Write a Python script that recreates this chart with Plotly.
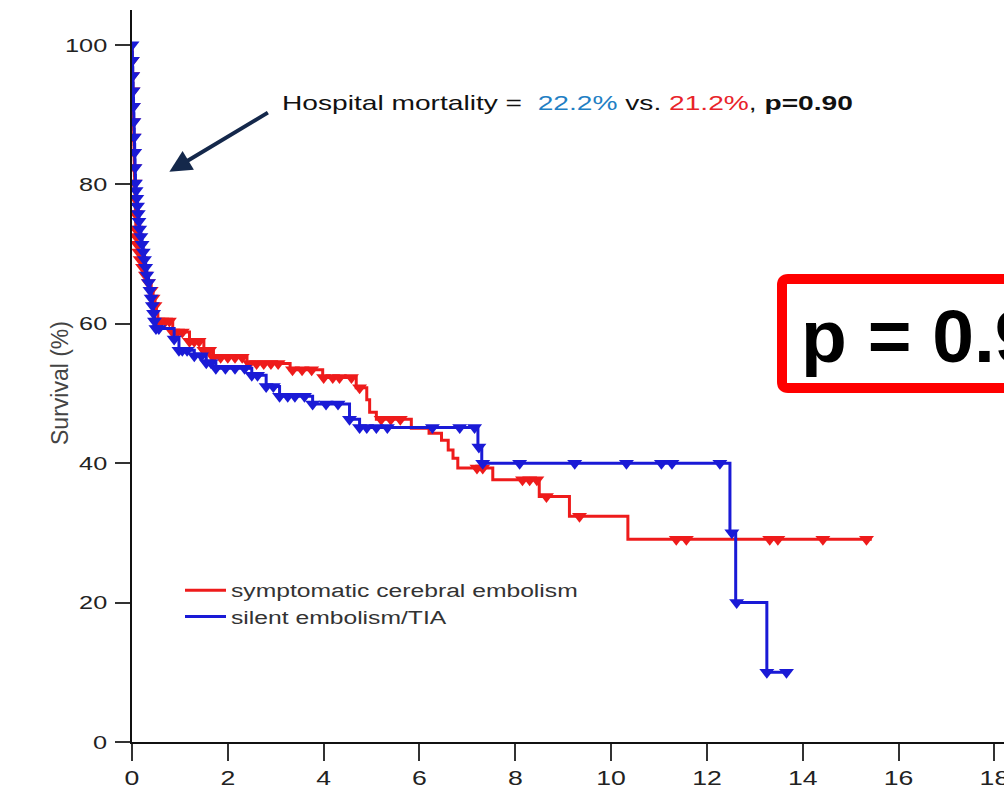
import plotly.graph_objects as go

# ---- Kaplan-Meier data (years, survival %) ----
# symptomatic cerebral embolism
red_event_t = [0.003, 0.006, 0.009, 0.012, 0.015, 0.018, 0.021, 0.024, 0.027, 0.030,
               0.033, 0.036, 0.039, 0.042, 0.045, 0.048, 0.051, 0.054, 0.058, 0.062,
               0.066, 0.070, 0.075, 0.080, 0.090, 0.110, 0.140, 0.170, 0.220, 0.280,
               0.340, 0.400, 0.440, 0.480, 0.510, 0.540, 0.85, 1.20, 1.50, 1.70,
               2.40, 3.30, 3.98, 4.68, 4.90, 4.96, 5.10, 5.83, 6.20, 6.46,
               6.60, 6.70, 6.80, 7.53, 8.50, 9.13, 10.35]
red_event_s = [98.9, 97.8, 96.7, 95.6, 94.5, 93.4, 92.3, 91.2, 90.1, 89.0,
               87.9, 86.8, 85.7, 84.6, 83.5, 82.4, 81.3, 80.2, 79.1, 78.0,
               76.9, 75.8, 74.7, 73.6, 72.5, 71.4, 70.3, 69.2, 68.1, 67.0,
               65.9, 64.8, 63.7, 62.6, 61.5, 60.4, 58.8, 57.5, 56.2, 55.2,
               54.3, 53.4, 52.3, 50.8, 49.1, 47.3, 46.3, 45.0, 44.3, 43.3,
               41.9, 40.7, 39.3, 37.6, 35.2, 32.4, 29.1]
red_censor_t = [0.006, 0.012, 0.018, 0.024, 0.030, 0.036, 0.042, 0.048, 0.054, 0.062,
                0.070, 0.080, 0.090, 0.110, 0.140, 0.170, 0.220, 0.280, 0.340, 0.400,
                0.440, 0.480, 0.540, 0.62, 0.70, 0.78, 0.85, 0.95, 1.05, 1.20,
                1.30, 1.40, 1.50, 1.62, 1.70, 1.85, 2.00, 2.15, 2.30, 2.45,
                2.60, 2.75, 2.90, 3.05, 3.35, 3.55, 3.75, 4.00, 4.19, 4.33,
                4.58, 4.75, 5.20, 5.40, 5.60, 7.20, 7.32, 8.15, 8.30, 8.45,
                8.65, 9.34, 11.36, 11.57, 13.31, 13.48, 14.42, 15.33]
red_end_t = 15.44

# silent embolism/TIA
blue_event_t = [0.004, 0.008, 0.012, 0.016, 0.020, 0.024, 0.028, 0.032, 0.036, 0.040,
                0.044, 0.048, 0.052, 0.056, 0.060, 0.064, 0.068, 0.072, 0.085, 0.100,
                0.115, 0.130, 0.145, 0.160, 0.185, 0.210, 0.235, 0.260, 0.285, 0.310,
                0.345, 0.375, 0.400, 0.425, 0.450, 0.470, 0.500, 0.88, 0.98, 1.30,
                1.55, 1.75, 2.50, 2.80, 3.08, 3.77, 4.54, 4.75, 7.22, 7.30,
                12.48, 12.60, 13.25]
blue_event_s = [98.9, 97.8, 96.7, 95.6, 94.5, 93.4, 92.3, 91.2, 90.1, 89.0,
                87.9, 86.8, 85.7, 84.6, 83.5, 82.4, 81.3, 80.2, 79.1, 78.0,
                76.9, 75.8, 74.7, 73.6, 72.5, 71.4, 70.3, 69.2, 68.1, 67.0,
                65.9, 64.8, 63.7, 62.6, 61.5, 60.4, 59.3, 57.8, 56.2, 55.4,
                54.4, 53.6, 52.6, 51.0, 49.6, 48.5, 46.3, 45.1, 42.3, 40.0,
                30.0, 20.0, 10.0]
blue_censor_t = [0.0, 0.008, 0.016, 0.024, 0.032, 0.040, 0.048, 0.056, 0.064, 0.072,
                 0.085, 0.100, 0.115, 0.130, 0.145, 0.160, 0.185, 0.210, 0.235, 0.260,
                 0.285, 0.310, 0.345, 0.375, 0.400, 0.425, 0.450, 0.470, 0.500, 0.56,
                 0.88, 0.98, 1.05, 1.15, 1.30, 1.45, 1.55, 1.65, 1.75, 1.95,
                 2.15, 2.35, 2.50, 2.62, 2.80, 2.95, 3.08, 3.25, 3.40, 3.60,
                 3.77, 4.05, 4.30, 4.54, 4.75, 4.90, 5.10, 5.33, 6.27, 6.84,
                 7.15, 7.24, 7.32, 8.09, 9.24, 10.32, 11.05, 11.27, 12.27, 12.52,
                 12.62, 13.25, 13.66]
blue_end_t = 13.72

series_names = ["symptomatic cerebral embolism", "silent embolism/TIA"]
x_ticks = [0, 2, 4, 6, 8, 10, 12, 14, 16, 18]
y_ticks = [0, 20, 40, 60, 80, 100]

RED = "#ee1b1b"
BLUE = "#1a1ad6"
FONT = "Liberation Sans, Arial, sans-serif"

# ---- figure geometry (pixels) ----
W, H = 1004, 789
ML, MR, MT, MB = 132, 0, 10, 47
PW, PH = W - ML - MR, H - MT - MB


def px_x(px):
    return (px - ML) / PW


def px_y(py):
    return (H - MB - py) / PH


def step_xy(ts, ss, end_t):
    return [0.0] + list(ts) + [end_t], [100.0] + list(ss) + [ss[-1]]


def surv_at(t, ts, ss):
    s = 100.0
    for et, es in zip(ts, ss):
        if et <= t:
            s = es
    return s


fig = go.Figure()

curves = [
    (series_names[0], RED, red_event_t, red_event_s, red_censor_t, red_end_t),
    (series_names[1], BLUE, blue_event_t, blue_event_s, blue_censor_t, blue_end_t),
]
for name, color, ts, ss, cs, end_t in curves:
    lx, ly = step_xy(ts, ss, end_t)
    fig.add_trace(go.Scatter(
        x=lx, y=ly, mode="lines", line=dict(color=color, width=3, shape="hv"),
        name=name, showlegend=True, hoverinfo="skip"))
    fig.add_trace(go.Scatter(
        x=cs, y=[surv_at(t, ts, ss) for t in cs], mode="markers",
        marker=dict(symbol="triangle-down", size=13, color=color, line=dict(width=0)),
        name=name, showlegend=False, hoverinfo="skip"))

fig.update_xaxes(
    range=[0, 18.2], tickvals=x_ticks, ticktext=[str(v) for v in x_ticks],
    showline=True, linecolor="#111111", linewidth=2, ticks="outside", ticklen=17,
    tickwidth=1.5, tickcolor="#333333", showgrid=False, zeroline=False,
    tickfont=dict(family=FONT, size=20, color="#222222"), automargin=False,
    ticklabeloverflow="allow")
fig.update_yaxes(
    range=[0, 105], tickvals=y_ticks, ticktext=[str(v) for v in y_ticks],
    showline=True, linecolor="#111111", linewidth=2, ticks="outside", ticklen=15,
    tickwidth=1.5, tickcolor="#333333", showgrid=False, zeroline=False,
    tickfont=dict(family=FONT, size=19, color="#222222"), ticklabelstandoff=4,
    automargin=False, ticklabeloverflow="allow")

# rounded red frame around the large p-value
bx0, bx1, by0, by1, rr = 782, 1040, 279, 388, 6
frame = (f"M{px_x(bx0 + rr)},{px_y(by0)} L{px_x(bx1)},{px_y(by0)} "
         f"L{px_x(bx1)},{px_y(by1)} L{px_x(bx0 + rr)},{px_y(by1)} "
         f"Q{px_x(bx0)},{px_y(by1)} {px_x(bx0)},{px_y(by1 - rr)} "
         f"L{px_x(bx0)},{px_y(by0 + rr)} Q{px_x(bx0)},{px_y(by0)} {px_x(bx0 + rr)},{px_y(by0)} Z")
fig.add_shape(type="path", xref="paper", yref="paper", path=frame,
              line=dict(color="#ff0000", width=10), fillcolor="white", layer="above")

annotations = [
    # arrow pointing at the early drop
    dict(x=0.78, y=81.8, xref="x", yref="y", text="", showarrow=True,
         ax=100, ay=-60, arrowhead=2, arrowsize=1.1, arrowwidth=4,
         arrowcolor="#14284b", standoff=0),
    dict(x=px_x(280), y=px_y(103), xref="paper", yref="paper", xanchor="left",
         yanchor="middle", align="left", showarrow=False,
         text=('Hospital mortality =  <span style="color:#1f7fc4">22.2%</span> vs. '
               '<span style="color:#e8232a">21.2%</span>, <b>p=0.90</b>'),
         font=dict(family=FONT, size=21, color="#111111")),
    dict(x=px_x(799), y=px_y(336), xref="paper", yref="paper", xanchor="left",
         yanchor="middle", align="left", showarrow=False, text="<b>p = 0.90</b>",
         font=dict(family=FONT, size=75, color="#000000")),
    dict(x=px_x(60), y=px_y(383), xref="paper", yref="paper", xanchor="center",
         yanchor="middle", showarrow=False, text="Survival (%)", textangle=-90,
         font=dict(family=FONT, size=23, color="#444444")),
]

fig.update_layout(
    width=W, height=H, margin=dict(l=ML, r=MR, t=MT, b=MB, pad=0),
    paper_bgcolor="white", plot_bgcolor="white", template="none",
    annotations=annotations,
    legend=dict(x=px_x(180), y=px_y(603.5), xanchor="left", yanchor="middle",
                bgcolor="rgba(0,0,0,0)", borderwidth=0, itemwidth=41,
                font=dict(family=FONT, size=18, color="#333333")),
)

# widen chart lettering horizontally (tick labels, legend entries, mortality note)
stretch_js = """
function widenText() {
  var gd = document.getElementById('{plot_id}');
  if (!gd) return;
  var rules = [
    ['.xtick text, .ytick text', 1.33],
    ['.legendtext', 1.37],
    ['.annotation[data-index="1"] text.annotation-text', 1.34]
  ];
  rules.forEach(function (r) {
    gd.querySelectorAll(r[0]).forEach(function (t) {
      if (t.getAttribute('data-wide') === '1') return;
      var w = t.getComputedTextLength();
      if (!w) return;
      t.setAttribute('textLength', (w * r[1]).toFixed(1));
      t.setAttribute('lengthAdjust', 'spacingAndGlyphs');
      t.setAttribute('data-wide', '1');
    });
  });
  gd.querySelectorAll('.infolayer g[class^="legend"], .infolayer g[class^="legend"] *').forEach(function (e) {
    if (e.hasAttribute('clip-path')) e.removeAttribute('clip-path');
  });
}
widenText();
setTimeout(widenText, 20);
setTimeout(widenText, 200);
"""
fig.write_html("out.html", post_script=stretch_js)
